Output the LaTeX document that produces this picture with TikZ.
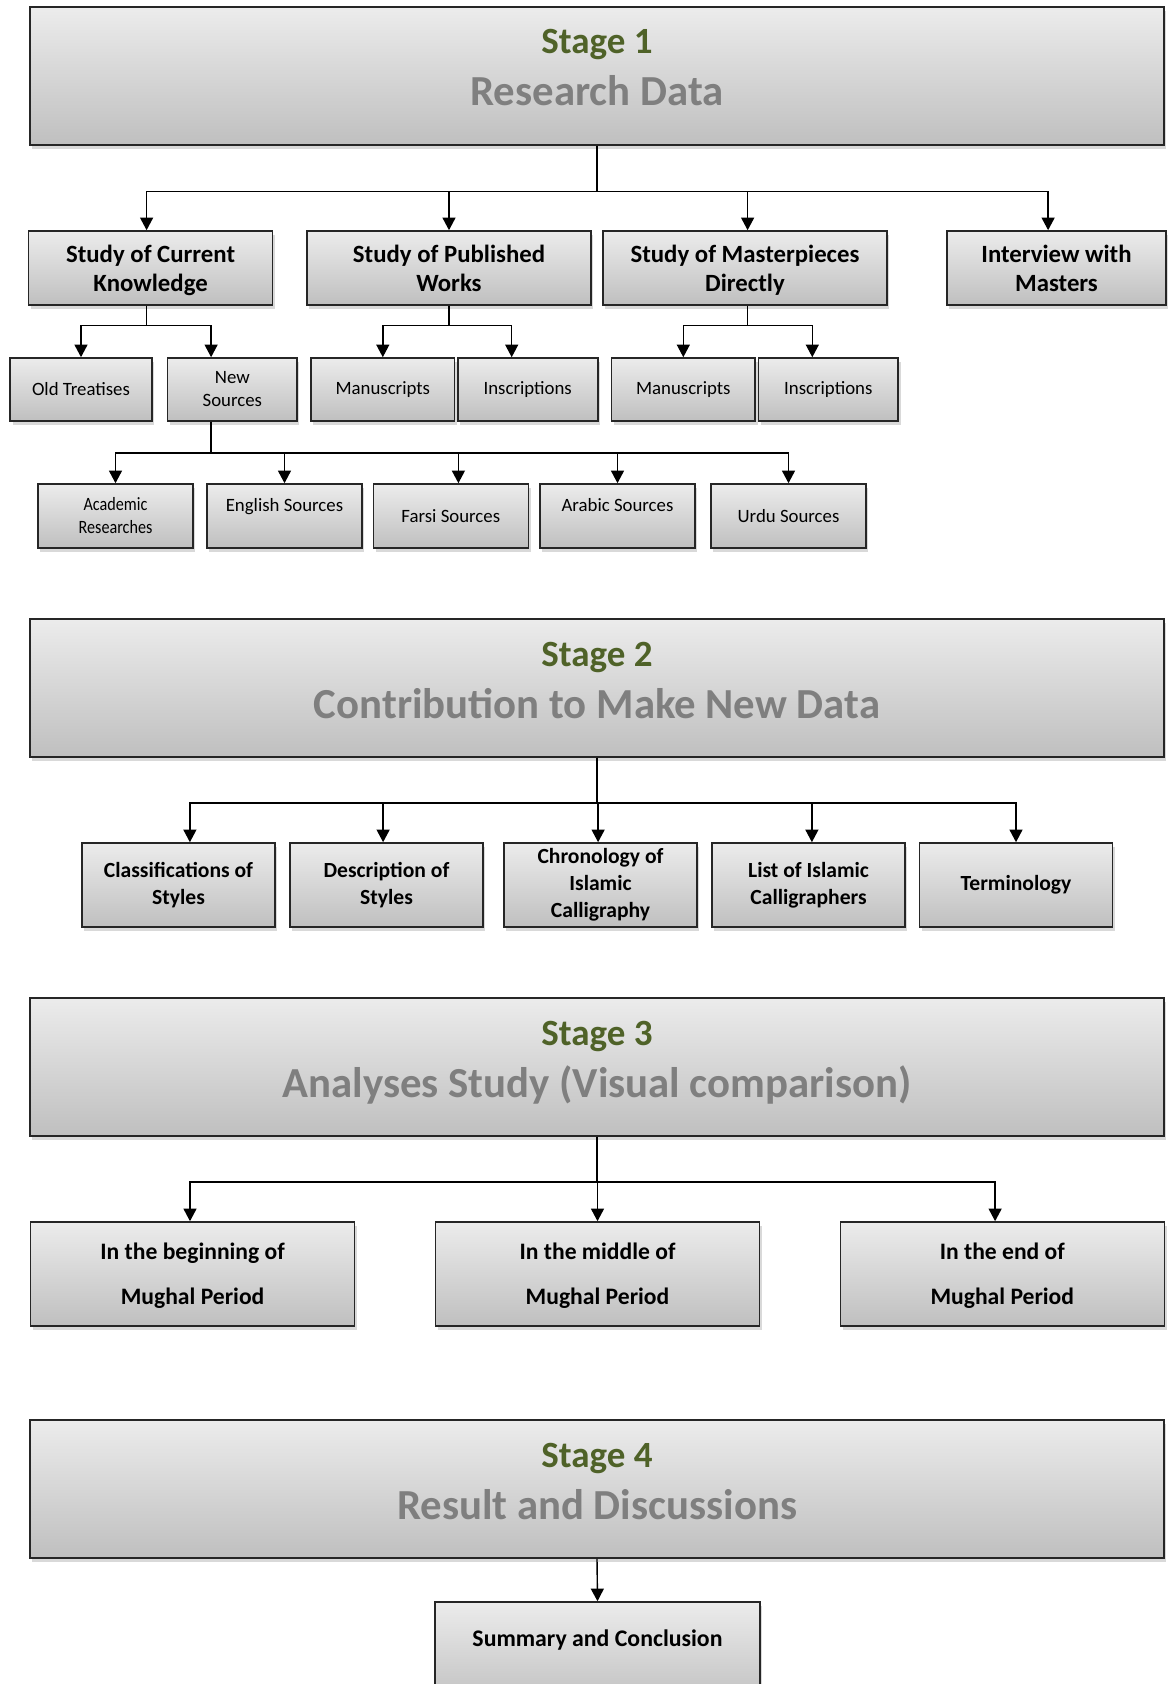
\documentclass[tikz,border=0pt]{standalone}
\usepackage{fontspec}
\setmainfont{Carlito}
\newfontfamily\narrowfont[FakeStretch=0.86]{Carlito}
\usetikzlibrary{arrows.meta,shadows}

\definecolor{stagegreen}{HTML}{4F6228}
\definecolor{stagegray}{HTML}{7F7F7F}

\tikzset{
  box/.style={draw=black!85, line width=0.8pt, top color=gray!15, bottom color=gray!50,
    drop shadow={shadow xshift=1.2pt, shadow yshift=-1.8pt, opacity=0.3},
    align=center, inner sep=2pt},
  stage/.style={box, minimum width=567pt, minimum height=69pt},
  stagenum/.style={anchor=base, text=stagegreen, font=\bfseries\fontsize{18.5}{22}\selectfont},
  stagename/.style={anchor=base, text=stagegray, font=\bfseries\fontsize{21.4}{25}\selectfont},
  topic/.style={box, minimum height=37pt, text depth=0pt, font=\bfseries\fontsize{12.4}{14.5}\selectfont},
  source/.style={box, minimum height=31.5pt, font=\fontsize{9.4}{11.5}\selectfont},
  sourcewide/.style={source, minimum width=77.5pt, minimum height=32pt},
  output/.style={box, minimum width=96.5pt, minimum height=42pt, font=\bfseries\fontsize{10.8}{13.5}\selectfont},
  period/.style={box, minimum width=162pt, minimum height=52pt, text depth=-4pt, font=\bfseries\fontsize{11.8}{22.5}\selectfont},
  result/.style={box, minimum width=162.5pt, minimum height=52pt, text depth=16pt, font=\bfseries\fontsize{11.9}{14}\selectfont},
  link/.style={line width=0.7pt, -{Triangle[length=6.3pt,width=6.5pt]}},
}

\begin{document}
\begin{tikzpicture}[x=0.5pt, y=-0.5pt]
  \useasboundingbox (0,0) rectangle (1168,1684);

  % Stage 1: research data
  \node[stage] (s1) at (597,76) {};
  \node[stagenum] (s1n) at ([yshift=11pt]s1.center) {Stage 1};
  \node[stagename] (s1t) at ([yshift=-15pt]s1.center) {Research Data};

  \node[topic, minimum width=122pt] (sck) at (150.6,268) {Study of Current\\Knowledge};
  \node[topic, minimum width=142pt] (spw) at (449,268) {Study of Published\\Works};
  \node[topic, minimum width=142pt] (smd) at (745,268) {Study of Masterpieces\\Directly};
  \node[topic, minimum width=109.5pt] (iwm) at (1056.5,268) {Interview with\\Masters};

  \node[source, minimum width=70.8pt] (ot) at (81,389.5) {Old Treatises};
  \node[source, minimum width=64.7pt] (ns) at (232.3,389.5) {New\\Sources};
  \node[source, minimum width=71.8pt] (m1) at (382.8,389.5) {Manuscripts};
  \node[source, minimum width=70pt] (i1) at (527.7,389.5) {Inscriptions};
  \node[source, minimum width=71.8pt] (m2) at (683.3,389.5) {Manuscripts};
  \node[source, minimum width=69.8pt] (i2) at (828.3,389.5) {Inscriptions};

  \node[sourcewide, font=\narrowfont\fontsize{9.4}{11.5}\selectfont] (ar) at (115.5,516) {Academic\\Researches};
  \node[sourcewide, text depth=11pt] (es) at (284.5,516) {English Sources};
  \node[sourcewide] (fs) at (450.8,516) {Farsi Sources};
  \node[sourcewide, text depth=11pt] (abs) at (617.5,516) {Arabic Sources};
  \node[sourcewide] (us) at (788.5,516) {Urdu Sources};

  % Stage 2: new data
  \node[stage] (s2) at (597,688) {};
  \node[stagenum] (s2n) at ([yshift=11pt]s2.center) {Stage 2};
  \node[stagename] (s2t) at ([yshift=-15pt]s2.center) {Contribution to Make New Data};

  \node[output] (cs) at (178.5,885) {Classifications of\\Styles};
  \node[output] (ds) at (386.5,885) {Description of\\Styles};
  \node[output] (ci) at (600.5,885) {Chronology of\\Islamic\\Calligraphy};
  \node[output] (li) at (808.5,885) {List of Islamic\\Calligraphers};
  \node[output] (tm) at (1016,885) {Terminology};

  % Stage 3: comparison
  \node[stage] (s3) at (597,1067) {};
  \node[stagenum] (s3n) at ([yshift=11pt]s3.center) {Stage 3};
  \node[stagename] (s3t) at ([yshift=-15pt]s3.center) {Analyses Study (Visual comparison)};

  \node[period] (pb) at (192.6,1274) {In the beginning of\\Mughal Period};
  \node[period] (pm) at (597.5,1274) {In the middle of\\Mughal Period};
  \node[period] (pe) at (1002.3,1274) {In the end of\\Mughal Period};

  % Stage 4: results
  \node[stage] (s4) at (597,1489) {};
  \node[stagenum] (s4n) at ([yshift=11pt]s4.center) {Stage 4};
  \node[stagename] (s4t) at ([yshift=-15pt]s4.center) {Result and Discussions};

  \node[result] (sum) at (597.5,1654) {Summary and Conclusion};

  % connectors
  \draw[link] (s1.south) -- ++(0,46) -| ([xshift=-2pt]sck.north);
  \draw[link] (s1.south) -- ++(0,46) -| (spw.north);
  \draw[link] (s1.south) -- ++(0,46) -| ([xshift=1.3pt]smd.north);
  \draw[link] (s1.south) -- ++(0,46) -| ([xshift=-4.2pt]iwm.north);

  \draw[link] ([xshift=-2pt]sck.south) -- ++(0,20) -| (ot.north);
  \draw[link] ([xshift=-2pt]sck.south) -- ++(0,20) -| ([xshift=-10.6pt]ns.north);
  \draw[link] (spw.south) -- ++(0,20) -| (m1.north);
  \draw[link] (spw.south) -- ++(0,20) -| ([xshift=-8pt]i1.north);
  \draw[link] ([xshift=1.3pt]smd.south) -- ++(0,20) -| (m2.north);
  \draw[link] ([xshift=1.3pt]smd.south) -- ++(0,20) -| ([xshift=-8pt]i2.north);

  \draw[link] ([xshift=-10.6pt]ns.south) -- ++(0,31) -| (ar.north);
  \draw[link] ([xshift=-10.6pt]ns.south) -- ++(0,31) -| (es.north);
  \draw[link] ([xshift=-10.6pt]ns.south) -- ++(0,31) -| ([xshift=3.8pt]fs.north);
  \draw[link] ([xshift=-10.6pt]ns.south) -- ++(0,31) -| (abs.north);
  \draw[link] ([xshift=-10.6pt]ns.south) -- ++(0,31) -| (us.north);

  \draw[link] (s2.south) -- ++(0,45) -| ([xshift=5.7pt]cs.north);
  \draw[link] (s2.south) -- ++(0,45) -| ([xshift=-1.7pt]ds.north);
  \draw[link] (s2.south) -- ++(0,45) -| ([xshift=-1.2pt]ci.north);
  \draw[link] (s2.south) -- ++(0,45) -| ([xshift=1.7pt]li.north);
  \draw[link] (s2.south) -- ++(0,45) -| (tm.north);

  \draw[link] (s3.south) -- ++(0,45) -| ([xshift=-1.3pt]pb.north);
  \draw[link] (s3.south) -- ++(0,45) -| (pm.north);
  \draw[link] (s3.south) -- ++(0,45) -| ([xshift=-3.6pt]pe.north);

  \draw[link] (s4.south) -- (sum.north);
\end{tikzpicture}
\end{document}
